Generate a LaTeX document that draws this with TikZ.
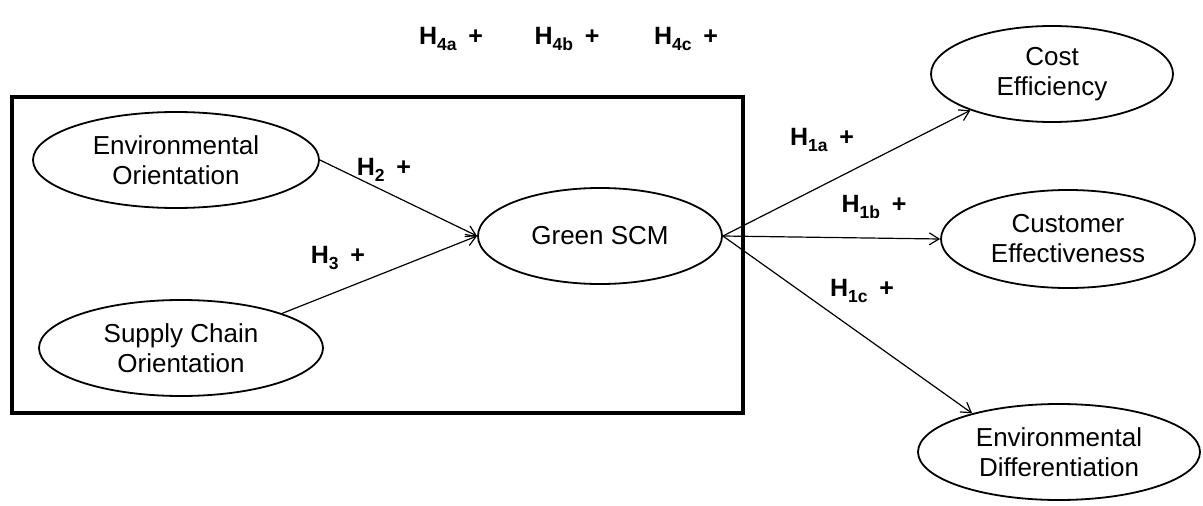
\documentclass[tikz,border=0pt]{standalone}
\usepackage{fontspec}
\setmainfont{Liberation Sans}
\usetikzlibrary{arrows.meta,shapes.geometric}
\tikzset{
  var/.style  ={ellipse,draw=black,line width=1.8pt,inner sep=0pt,align=center,
                font=\fontsize{26}{30}\selectfont},
  lnk/.style  ={-{Straight Barb[length=3.4mm,width=4.2mm]},draw=black,line width=1.2pt},
  hyp/.style  ={font=\fontsize{25}{28}\selectfont\bfseries,inner sep=1pt},
  frame/.style={draw=black,line width=3.6pt},
}
\newcommand{\hy}[1]{H\textsubscript{\raisebox{-0.3ex}{#1}}\hspace{0.45em}+}

\begin{document}
\begin{tikzpicture}[x=1pt,y=-1pt]
\useasboundingbox (0,0) rectangle (1203,506);

% ===== antecedents box ===================================================
\draw[frame] (12,97) rectangle (743,413);

\node[var,minimum width=286pt,minimum height=96pt] (env)   at (176,160)
  {Environmental\\ Orientation};
\node[var,minimum width=284pt,minimum height=96pt] (sco)   at (181,348)
  {Supply Chain\\ Orientation};
\node[var,minimum width=244pt,minimum height=96pt] (green) at (600,236)
  {Green SCM};

% ===== outcomes ==========================================================
\node[var,minimum width=242pt,minimum height=96pt] (cost) at (1052,74)
  {Cost\\ Efficiency};
\node[var,minimum width=254pt,minimum height=98pt] (cust) at (1068,239)
  {Customer\\ Effectiveness};
\node[var,minimum width=282pt,minimum height=96pt] (diff) at (1059,452)
  {Environmental\\ Differentiation};

% ===== paths =============================================================
\draw[lnk] (env.east)          -- (green.west);
\draw[lnk] (sco.north east)    -- (green.west);
\draw[lnk] (green.east)        -- (cost.204);
\draw[lnk] (green.east)        -- (cust.west);
\draw[lnk] (green.east)        -- (diff.156);

% ===== hypothesis labels =================================================
\node[hyp] (h2)  at (384,170) {\hy{2}};
\node[hyp] (h3)  at (338,258) {\hy{3}};
\node[hyp] (h1a) at (822,140) {\hy{1a}};
\node[hyp] (h1b) at (874,207) {\hy{1b}};
\node[hyp] (h1c) at (862,291) {\hy{1c}};
\node[hyp] (h4a) at (451,39)  {\hy{4a}};
\node[hyp] (h4b) at (567,39)  {\hy{4b}};
\node[hyp] (h4c) at (686,39)  {\hy{4c}};
\end{tikzpicture}
\end{document}
